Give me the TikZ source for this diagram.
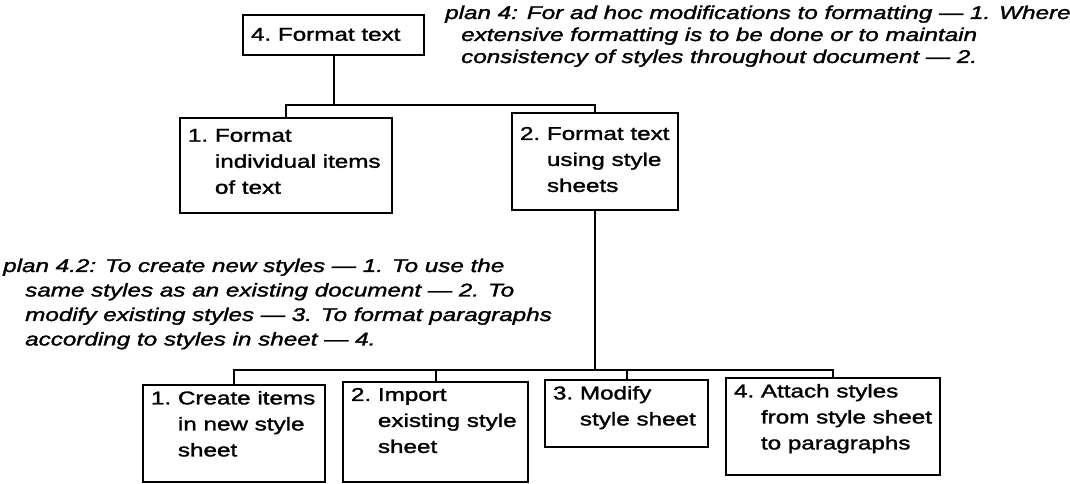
\documentclass[tikz,border=0pt]{standalone}
\usepackage{fontspec}
\setmainfont{Liberation Sans}[FakeStretch=1.31, FakeBold=1.6]

% Text of a task box: width, height, top gap, number, lines (hanging under the number)
\newcommand\taskbody[5]{%
  \parbox[b][#2][t]{#1}{%
    \vspace*{#3}%
    \fontsize{18.5bp}{26bp}\selectfont
    \leftskip=8bp \rightskip=0pt plus 1fil \parfillskip=0pt plus 1fil
    \setbox0=\hbox{#4~}\hangindent=\wd0 \hangafter=1
    \noindent\box0 #5\par}}

% Italic plan text: width, line pitch, hanging indent, lines
\newcommand\plantext[4]{%
  \parbox[t]{#1}{%
    \fontsize{18.5bp}{#2}\selectfont\itshape
    \rightskip=0pt plus 1fil \parfillskip=0pt plus 1fil
    \hangindent=#3 \hangafter=1
    \noindent #4\par}}

\tikzset{
  task/.style={draw, line width=2bp, inner sep=0pt, outer sep=0pt, anchor=north west},
  plan/.style={inner sep=0pt, anchor=base west},
  link/.style={line width=2bp}
}

\begin{document}
\begin{tikzpicture}[x=1bp, y=-1bp]
\useasboundingbox (0,0) rectangle (1070,484);

% top task
\node[task] (t0) at (243,15) {\taskbody{181bp}{40bp}{13bp}{4.}{Format text}};

% second level
\node[task] (t1) at (180,118) {\taskbody{212bp}{95bp}{11bp}{1.}{Format\\individual items\\of text}};
\node[task] (t2) at (512,113) {\taskbody{166bp}{97bp}{14bp}{2.}{Format text\\using style\\sheets}};

% third level
\node[task] (s1) at (143,385) {\taskbody{182bp}{97bp}{6bp}{1.}{Create items\\in new style\\sheet}};
\node[task] (s2) at (343,382) {\taskbody{185bp}{100bp}{6bp}{2.}{Import\\existing style\\sheet}};
\node[task] (s3) at (545,380) {\taskbody{163bp}{67bp}{6bp}{3.}{Modify\\style sheet}};
\node[task] (s4) at (726,378) {\taskbody{214bp}{97bp}{6bp}{4.}{Attach styles\\from style sheet\\to paragraphs}};

% plans
\node[plan] (p4) at (445,19) {\plantext{700bp}{22bp}{16bp}{plan 4: For ad hoc modifications to formatting — 1. Where\\extensive formatting is to be done or to maintain\\consistency of styles throughout document — 2.}};
\node[plan] (p42) at (3,272) {\plantext{600bp}{24.5bp}{22bp}{plan 4.2: To create new styles — 1. To use the\\same styles as an existing document — 2. To\\modify existing styles — 3. To format paragraphs\\according to styles in sheet — 4.}};

% connectors
\coordinate (bus1) at (0,105);
\coordinate (bus2) at (0,370);
\draw[link] (t0.south) -- (t0.south |- bus1);
\draw[link] (t1.north) |- (bus1 -| t2.north) -- (t2.north);
\draw[link] (t2.south) -- (t2.south |- bus2);
\draw[link] (s1.north) |- (bus2 -| s4.north) -- (s4.north);
\draw[link] (s2.north) -- (s2.north |- bus2);
\draw[link] (s3.north) -- (s3.north |- bus2);
\end{tikzpicture}
\end{document}
